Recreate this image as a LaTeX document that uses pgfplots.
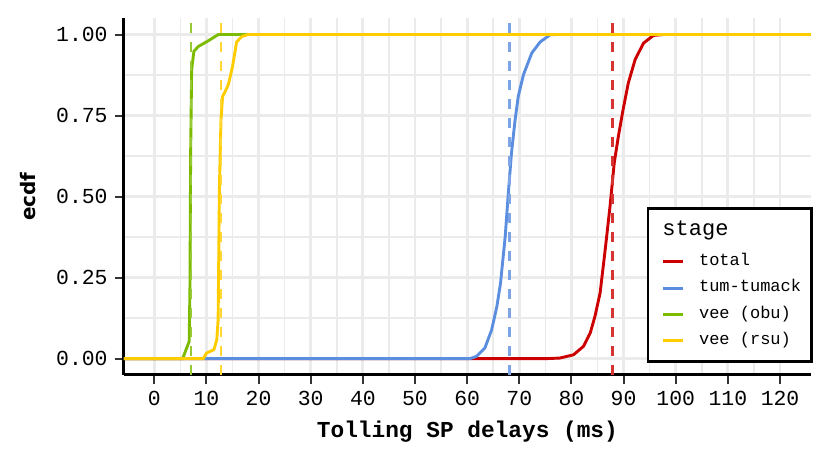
\documentclass[border=0pt]{standalone}
\usepackage{fontspec}
\setmainfont{Liberation Mono}
\newfontfamily\ylabfont{DejaVu Sans}
\usepackage{pgfplots}
\pgfplotsset{compat=1.18}
\definecolor{ctotal}{HTML}{CC0000}
\definecolor{ctum}{HTML}{5C8EE0}
\definecolor{cobu}{HTML}{7CBB00}
\definecolor{crsu}{HTML}{FFCC00}
\definecolor{gridc}{HTML}{EBEBEB}
\pgfplotsset{vref/.style={line width=1.4pt, dash pattern=on 5pt off 4.5pt, forget plot}}

\begin{document}
\begin{tikzpicture}
\useasboundingbox (-62pt,-45pt) rectangle (353pt,187.45pt);
\begin{axis}[
  scale only axis, width=343.4pt, height=178.3pt,
  at={(0,0)}, anchor=south west,
  xmin=-5.8, xmax=125.9, ymin=-0.05, ymax=1.05,
  xtick={0,10,...,120}, ytick={0,0.25,0.5,0.75,1},
  yticklabels={0.00,0.25,0.50,0.75,1.00},
  minor x tick num=1, minor y tick num=1,
  grid=both,
  major grid style={gridc, line width=1.4pt},
  minor grid style={gridc, line width=0.8pt},
  axis x line*=bottom, axis y line*=left,
  axis line style={black, line width=1.5pt},
  tick align=outside, major tick length=4.7pt, minor tick length=0pt,
  major tick style={color=black!80, line width=1pt},
  /pgf/number format/assume math mode=true,
  ticklabel style={font=\fontsize{10.7pt}{12pt}\selectfont},
  xlabel={Tolling SP delays (ms)},
  ylabel={ecdf},
  every axis x label/.style={at={(axis description cs:0.5,-0.16)}, anchor=center,
    font=\fontsize{11.4pt}{13pt}\selectfont\bfseries},
  every axis y label/.style={at={(axis description cs:-0.1395,0.5)}, anchor=center, rotate=90,
    font=\fontsize{10pt}{12pt}\ylabfont\bfseries},
  legend cell align=left,
  legend style={at={(axis description cs:1.003,0.470)}, anchor=north east,
    draw=black, line width=1.4pt, fill=white,
    inner xsep=5.2pt, inner ysep=3.7pt, column sep=7.3pt,
    nodes={inner xsep=0pt, inner ysep=0pt, text height=8.4pt, text depth=4.8pt,
      font=\fontsize{8.5pt}{10pt}\selectfont}},
  legend image code/.code={\path (0pt,0pt); \draw[#1, solid, line width=1.5pt] (1.6pt,0pt) -- (11.6pt,0pt);},
  every axis plot/.append style={line width=1.45pt, line join=round},
]
\addlegendimage{empty legend}
\addlegendentry[font=\fontsize{11pt}{12pt}\selectfont, text height=9.5pt, text depth=6.7pt]{\hspace*{-18.3pt}stage}

\addplot[ctotal] coordinates {(-5.8,0) (75,0) (77.8,0.002) (80.4,0.012) (82.3,0.038) (83.6,0.079) (84.5,0.13) (85.5,0.203) (86.4,0.326) (87.4,0.47) (88.2,0.603) (89.0,0.686) (89.9,0.768) (90.9,0.85) (92.2,0.922) (93.8,0.973) (95.7,0.997) (97.6,1) (125.9,1)};
\addlegendentry{total}
\addplot[ctum] coordinates {(-5.8,0) (60.5,0) (61.8,0.007) (63.4,0.033) (64.7,0.089) (65.7,0.161) (66.4,0.233) (67.3,0.377) (67.9,0.511) (68.5,0.634) (69.2,0.737) (69.8,0.809) (70.8,0.876) (72.4,0.943) (74.0,0.977) (75.9,0.999) (77.2,1) (125.9,1)};
\addlegendentry{tum-tumack}
\addplot[cobu] coordinates {(-5.8,0) (5.44,0) (6.7,0.053) (6.85,0.223) (6.98,0.634) (7.17,0.891) (7.6,0.948) (8.45,0.963) (10.4,0.981) (12.3,1) (125.9,1)};
\addlegendentry{vee (obu)}
\addplot[crsu] coordinates {(-5.8,0) (9.4,0) (10.0,0.017) (11.45,0.028) (12.0,0.059) (12.25,0.12) (12.5,0.53) (12.8,0.737) (13.1,0.809) (13.6,0.824) (14.2,0.845) (15.0,0.90) (15.8,0.977) (16.8,0.994) (18.0,1) (125.9,1)};
\addlegendentry{vee (rsu)}

\addplot[vref, color=ctotal!80!white] coordinates {(87.8,-0.05) (87.8,1.05)};
\addplot[vref, color=ctum!80!white] coordinates {(68.1,-0.05) (68.1,1.05)};
\addplot[vref, color=cobu!80!white] coordinates {(7.06,-0.05) (7.06,1.05)};
\addplot[vref, color=crsu!80!white] coordinates {(12.8,-0.05) (12.8,1.05)};
\end{axis}
\end{tikzpicture}
\end{document}
